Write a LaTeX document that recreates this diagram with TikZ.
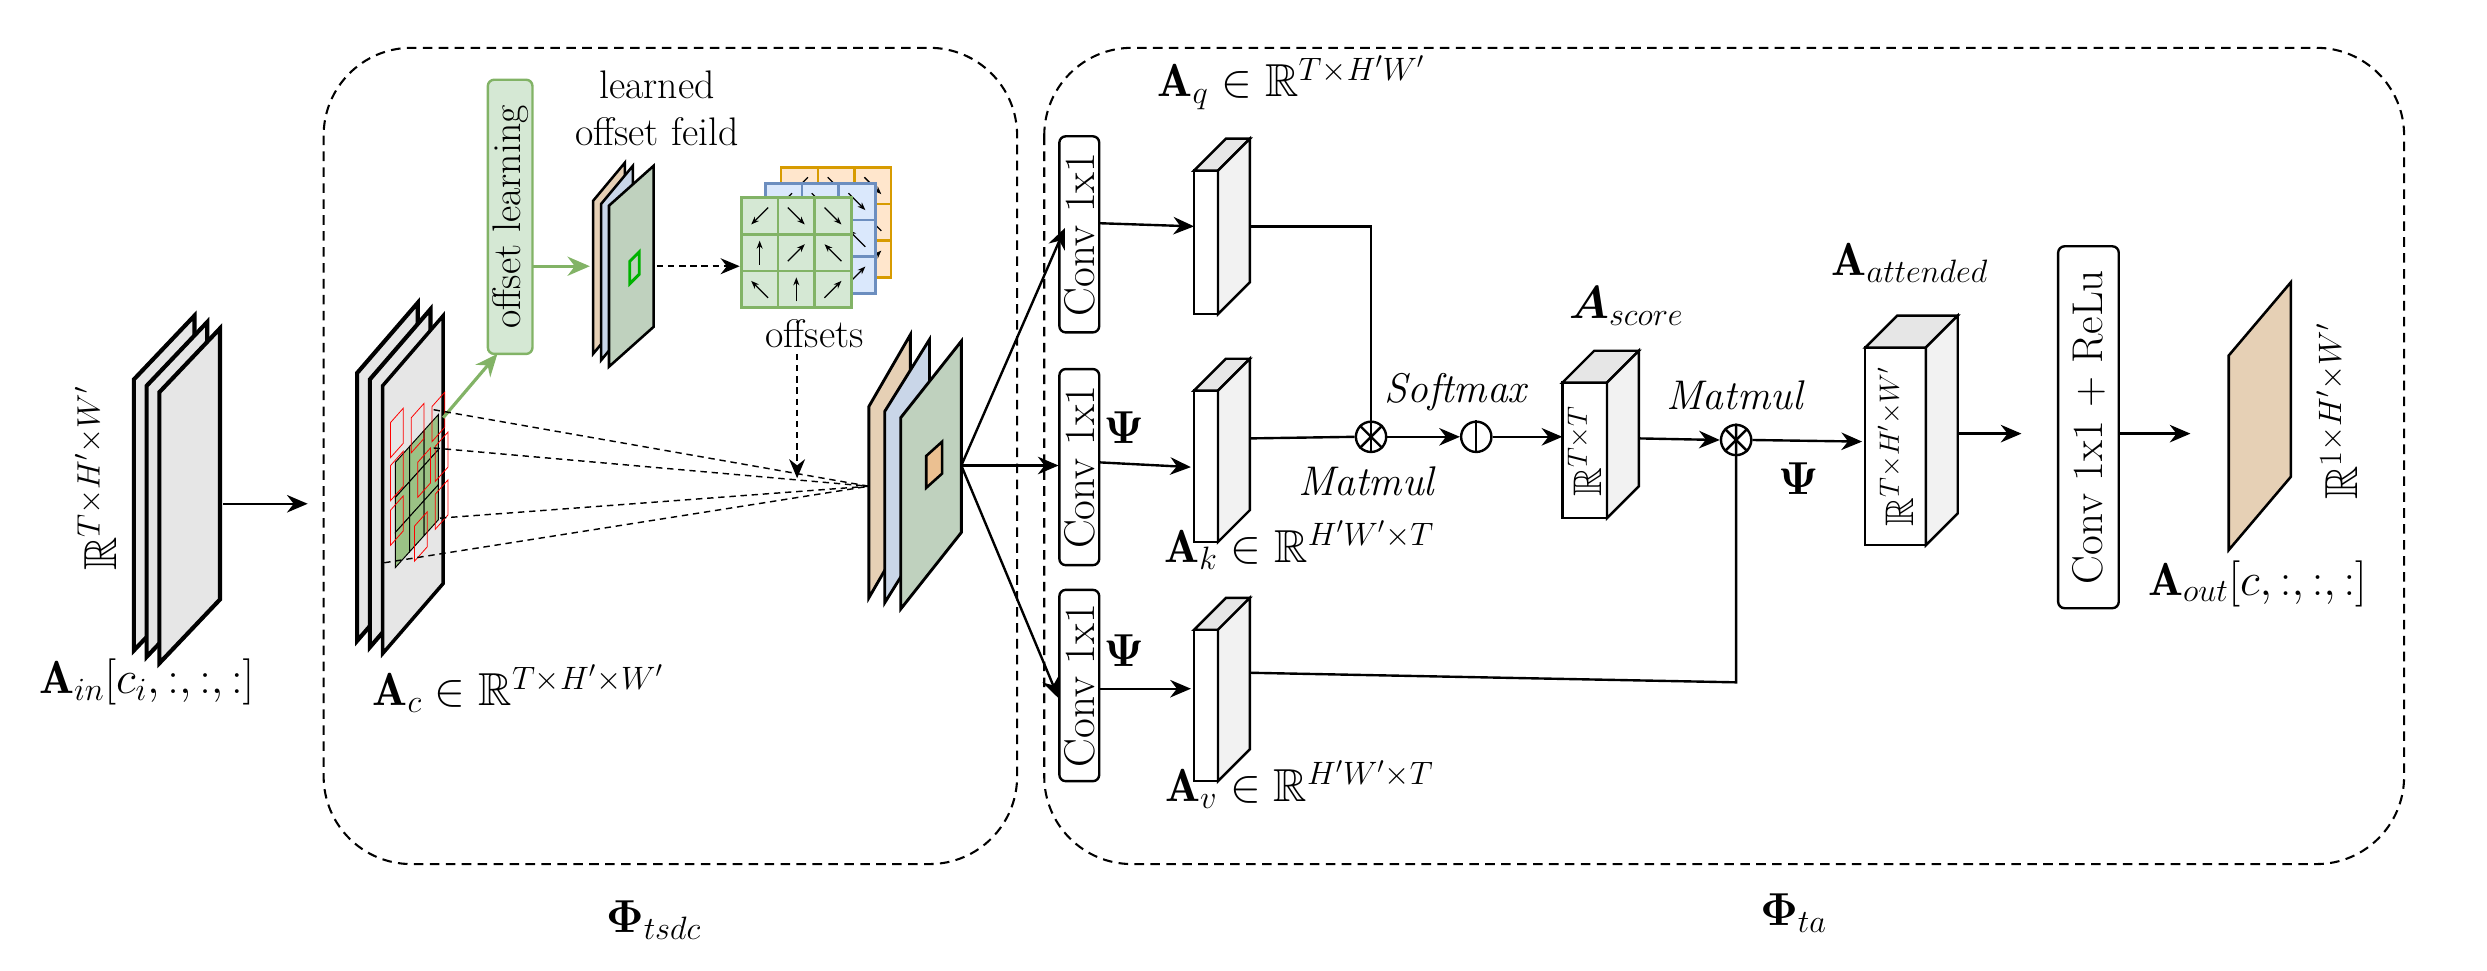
\RequirePackage{fix-cm}
\documentclass[tikz,border=0pt]{standalone}
\usepackage{amsmath,amssymb}
\usepackage{fontspec}
\usepackage{xcolor}
\usetikzlibrary{arrows.meta,positioning,calc}

\definecolor{tanc}{HTML}{E6D0B5}
\definecolor{bluec}{HTML}{C9D6E8}
\definecolor{greenc}{HTML}{BFD1BE}
\definecolor{grayc}{HTML}{E6E6E6}
\definecolor{lgreen}{HTML}{D5E8D4}
\definecolor{dgreen}{HTML}{82B366}
\definecolor{lblue}{HTML}{DAE8FC}
\definecolor{dblue}{HTML}{6C8EBF}
\definecolor{lorange}{HTML}{FFE6CC}
\definecolor{dorange}{HTML}{D79B00}

\tikzset{
  arr/.style={-{Stealth[length=13pt,width=11pt]},line width=1.5pt},
  darr/.style={-{Stealth[length=12pt,width=10pt]},dash pattern=on 4pt off 3pt,line width=1pt},
  garr/.style={-{Stealth[length=14pt,width=12pt]},dgreen,line width=2pt},
  convbox/.style={draw,rounded corners=4pt,line width=1.5pt,fill=white,
    inner sep=0pt,font=\fontsize{27}{30}\selectfont},
  region/.style={draw,dash pattern=on 6pt off 4pt,rounded corners=55pt,line width=1.3pt},
  op/.style={draw,circle,line width=1.5pt,minimum size=19pt,inner sep=0pt,fill=white},
  lbl/.style={font=\fontsize{29}{34}\selectfont},
  txt/.style={font=\fontsize{25}{28}\selectfont},
  itxt/.style={font=\fontsize{26}{30}\selectfont\itshape},
}

% sheet: bottom-left x, y, width, height, rise, fill, line width
\newcommand{\sheet}[7]{%
  \filldraw[fill=#6,line width=#7] (#1,#2) -- (#1,#2-#4) -- (#1+#3,#2-#4-#5)
    -- (#1+#3,#2-#5) -- cycle;}
% block: front x, top y, width, height, fill of front
\newcommand{\block}[5]{%
  \filldraw[fill=#5,line width=1.5pt] (#1,#2) rectangle (#1+#3,#2+#4);
  \filldraw[fill=grayc,line width=1.5pt] (#1,#2) -- (#1+20,#2-20) -- (#1+#3+20,#2-20) -- (#1+#3,#2) -- cycle;
  \filldraw[fill=black!5,line width=1.5pt] (#1+#3,#2) -- (#1+#3+20,#2-20) -- (#1+#3+20,#2+#4-20) -- (#1+#3,#2+#4) -- cycle;}
% offset grid: left x, top y, fill, draw
\newcommand{\ogrid}[4]{%
  \filldraw[fill=#3,draw=#4,line width=1.6pt] (#1,#2) rectangle (#1+69,#2+69);
  \foreach \i in {1,2} {
    \draw[#4,line width=1.6pt] (#1+23*\i,#2) -- (#1+23*\i,#2+69);
    \draw[#4,line width=1.6pt] (#1,#2+23*\i) -- (#1+69,#2+23*\i);}
  \foreach \c/\r/\a in {0/0/135,1/0/45,2/0/45,0/1/-90,1/1/-45,2/1/-135,0/2/-135,1/2/-90,2/2/-45}
    \draw[-{Stealth[length=5pt]},line width=0.8pt] ($(#1+23*\c+11.5,#2+23*\r+11.5)-(\a:7.5)$) -- ($(#1+23*\c+11.5,#2+23*\r+11.5)+(\a:7.5)$);}

\begin{document}
\begin{tikzpicture}[x=1pt,y=-1pt]
\useasboundingbox (0,0) rectangle (1560,609);

% regions
\draw[region] (203,30) rectangle (638,542);
\draw[region] (655,30) rectangle (1508,542);
\node[lbl] (phitsdc) at (410,577) {$\boldsymbol{\Phi}_{tsdc}$};
\node[lbl] (phita) at (1125,573) {$\boldsymbol{\Phi}_{ta}$};

% input maps
\sheet{84}{408}{38}{170}{40}{grayc}{2.6pt}
\sheet{92}{412}{38}{170}{40}{grayc}{2.6pt}
\sheet{100}{416}{38}{170}{40}{grayc}{2.6pt}
\node[lbl,rotate=90] (rin) at (60,300) {$\mathbb{R}^{T\times H'\times W'}$};
\node[lbl] (ain) at (92,428) {$\mathbf{A}_{in}[c_i,:,:,:]$};
\coordinate (inR) at (140,316);
\coordinate (acL) at (193,316);
\draw[arr] (inR) -- (acL);

% A_c maps
\sheet{224}{402}{38}{168}{44}{grayc}{2.6pt}
\sheet{232}{406}{38}{168}{44}{grayc}{2.6pt}
\sheet{240}{410}{38}{168}{44}{grayc}{2.2pt}
\foreach \c in {0,1,2}
  \foreach \r in {0,1,2}
    \filldraw[fill=dgreen!80,draw=black,line width=0.6pt]
      (248+9*\c,290+22*\r-10*\c) -- ++(0,22) -- ++(9,-10) -- ++(0,-22) -- cycle;
\foreach \px/\py in {245/265,258/262,271/255,245/292,262/290,273/280,245/320,260/330,273/310}
  \draw[red,line width=0.5pt] (\px,\py+22) -- ++(0,-22) -- ++(8,-9) -- ++(0,22) -- cycle;
\node[lbl] (ac) at (325,432) {$\mathbf{A}_c\in\mathbb{R}^{T\times H'\times W'}$};

% offset learning
\node[convbox,fill=lgreen,draw=dgreen,rotate=90,minimum width=172pt,
  minimum height=28pt,txt] (olearn) at (320,136) {offset learning};
\coordinate (acK) at (278,262);
\coordinate (olB) at (312,222);
\coordinate (olR) at (334,167);
\draw[garr] (acK) -- (olB);
\node[txt,align=center] (fieldlbl) at (412,68) {learned\\[2pt]offset feild};
\sheet{372}{222}{20}{96}{24}{tanc}{1.6pt}
\sheet{377}{226}{20}{98}{24}{bluec}{1.6pt}
\sheet{382}{230}{28}{101}{25}{greenc}{1.6pt}
\draw[green!70!black,line width=1.8pt] (395,178) -- ++(0,-14) -- ++(6,-6) -- ++(0,14) -- cycle;
\coordinate (fieldL) at (370,167);
\coordinate (fieldR) at (412,167);
\draw[garr] (olR) -- (fieldL);
\ogrid{490}{105}{lorange}{dorange}
\ogrid{480}{115}{lblue}{dblue}
\ogrid{465}{124}{lgreen}{dgreen}
\coordinate (gridL) at (464,167);
\draw[darr] (fieldR) -- (gridL);
\node[txt] (offs) at (511,209) {offsets};
\coordinate (offT) at (500,222);
\coordinate (offB) at (500,300);
\draw[darr] (offT) -- (offB);

% output of deformable conv
\sheet{545}{375}{26}{120}{45}{tanc}{1.8pt}
\sheet{555}{378}{28}{120}{45}{bluec}{1.8pt}
\sheet{565}{382}{38}{120}{48}{greenc}{1.8pt}
\filldraw[fill=tanc!80!orange,line width=1.6pt] (581,306) -- ++(0,-20) -- ++(10,-9) -- ++(0,20) -- cycle;
\coordinate (focus) at (545,305);
\foreach \sx/\sy in {272/257,272/281,276/325,241/353}
  \draw[dash pattern=on 4pt off 3pt,line width=0.9pt] (\sx,\sy) -- (focus);
\coordinate (outR) at (603,292);

% conv 1x1
\node[convbox,rotate=90,minimum width=123pt,minimum height=25pt] (cq) at (677,147) {Conv 1x1};
\node[convbox,rotate=90,minimum width=123pt,minimum height=25pt] (ck) at (677,293) {Conv 1x1};
\node[convbox,rotate=90,minimum width=120pt,minimum height=25pt] (cv) at (677,430) {Conv 1x1};
\coordinate (cqin) at (668,143);
\coordinate (ckin) at (664,292);
\coordinate (cvin) at (664,438);
\coordinate (cqout) at (689,140);
\coordinate (ckout) at (689,290);
\coordinate (cvout) at (689,432);
\draw[arr] (outR) -- (cqin);
\draw[arr] (outR) -- (ckin);
\draw[arr] (outR) -- (cvin);
\node[lbl] (psik) at (705,268) {$\boldsymbol{\Psi}$};
\node[lbl] (psiv) at (705,408) {$\boldsymbol{\Psi}$};

% q, k, v
\block{749}{107}{15}{90}{white}
\block{749}{245}{15}{95}{white}
\block{749}{395}{15}{95}{white}
\coordinate (qL) at (749,142);
\coordinate (kL) at (747,293);
\coordinate (vL) at (747,432);
\coordinate (qR) at (784,142);
\coordinate (kR) at (784,275);
\coordinate (vR) at (784,422);
\draw[arr] (cqout) -- (qL);
\draw[arr] (ckout) -- (kL);
\draw[arr] (cvout) -- (vL);
\node[lbl] (aq) at (810,52) {$\mathbf{A}_q\in\mathbb{R}^{T\times H'W'}$};
\node[lbl] (ak) at (815,342) {$\mathbf{A}_k\in\mathbb{R}^{H'W'\times T}$};
\node[lbl] (av) at (815,492) {$\mathbf{A}_v\in\mathbb{R}^{H'W'\times T}$};

% attention
\node[op] (mm1) at (860,274) {};
\draw[line width=1.5pt] (mm1.north west) -- (mm1.south east) (mm1.north east) -- (mm1.south west);
\node[op] (soft) at (926,274) {};
\draw[line width=1.5pt] (soft.north) -- (soft.south);
\node[op] (mm2) at (1089,276) {};
\draw[line width=1.5pt] (mm2.north west) -- (mm2.south east) (mm2.north east) -- (mm2.south west);
\draw[line width=1.5pt] (qR) -| (mm1.south);
\draw[line width=1.5pt] (kR) -- (mm1.west);
\draw[line width=1.5pt] (vR) -- (1089,428) -- (mm2.north);
\draw[arr] (mm1.east) -- (soft.west);
\node[itxt] (mmlbl1) at (857,302) {Matmul};
\node[itxt] (softlbl) at (913,246) {Softmax};
\node[itxt] (mmlbl2) at (1088,248) {Matmul};

\block{980}{240}{28}{85}{white}
\node[txt,rotate=90] (rtt) at (994,283) {$\mathbb{R}^{T\times T}$};
\node[lbl] (ascore) at (1020,192) {$\boldsymbol{A}_{score}$};
\coordinate (scL) at (980,274);
\coordinate (scR) at (1028,275);
\draw[arr] (soft.east) -- (scL);
\draw[arr] (scR) -- (mm2.west);

\block{1170}{218}{38}{124}{white}
\node[txt,rotate=90] (rthw) at (1189,280) {$\mathbb{R}^{T\times H'\times W'}$};
\node[lbl] (aatt) at (1198,165) {$\mathbf{A}_{attended}$};
\coordinate (atL) at (1168,277);
\coordinate (atR) at (1228,272);
\draw[arr] (mm2.east) -- (atL);
\node[lbl] (psia) at (1128,300) {$\boldsymbol{\Psi}$};

% conv + relu and output
\node[convbox,rotate=90,minimum width=227pt,minimum height=38pt] (crelu) at (1310,268) {Conv 1x1 + ReLu};
\coordinate (crL) at (1268,272);
\coordinate (crR) at (1329,272);
\draw[arr] (atR) -- (crL);
\sheet{1398}{345}{39}{122}{46}{tanc}{1.6pt}
\coordinate (outL) at (1374,272);
\draw[arr] (crR) -- (outL);
\node[lbl,rotate=90] (rout) at (1466,258) {$\mathbb{R}^{1\times H'\times W'}$};
\node[lbl] (aout) at (1416,366) {$\mathbf{A}_{out}[c,:,:,:]$};
\end{tikzpicture}
\end{document}
